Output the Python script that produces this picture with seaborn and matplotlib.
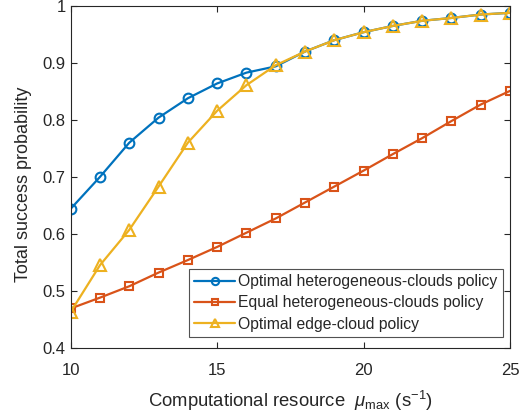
import numpy as np
import pandas as pd
import matplotlib
matplotlib.use('Agg')
import matplotlib.pyplot as plt
import seaborn as sns

# wartości
mu_max = list(range(10, 26))
opt_hetero = [0.644, 0.700, 0.760, 0.804, 0.838, 0.864, 0.883, 0.894,
              0.920, 0.940, 0.954, 0.965, 0.974, 0.979, 0.985, 0.988]
equal_hetero = [0.469, 0.488, 0.508, 0.532, 0.554, 0.577, 0.602, 0.627,
                0.655, 0.683, 0.711, 0.740, 0.768, 0.798, 0.827, 0.851]
opt_edge = [0.463, 0.545, 0.607, 0.683, 0.760, 0.816, 0.861, 0.896,
            0.920, 0.940, 0.954, 0.965, 0.974, 0.979, 0.985, 0.988]

labels = ['Optimal heterogeneous-clouds policy',
          'Equal heterogeneous-clouds policy',
          'Optimal edge-cloud policy']
colors = ['#0072BD', '#D95319', '#EDB120']
markers = ['o', 's', '^']
msizes = [7, 5.5, 8]

sns.set_theme(style='ticks')
plt.rcParams['font.family'] = ['Liberation Sans', 'DejaVu Sans']
plt.rcParams['mathtext.fontset'] = 'custom'
plt.rcParams['mathtext.it'] = 'Liberation Sans:italic'
plt.rcParams['mathtext.rm'] = 'Liberation Sans'

fig = plt.figure(figsize=(5.26, 4.16), dpi=100)
ax = fig.add_axes([0.1344, 0.164, 0.8352, 0.8216])

for ys, lab, c, m, ms in zip([opt_hetero, equal_hetero, opt_edge], labels, colors, markers, msizes):
    sns.lineplot(x=mu_max, y=ys, ax=ax, color=c, marker=m, markersize=ms,
                 markerfacecolor='none', markeredgecolor=c, markeredgewidth=1.5,
                 linewidth=1.6, label=lab)

ax.set_xlim(10, 25)
ax.set_ylim(0.4, 1.0)
ax.set_xticks([10, 15, 20, 25])
ax.set_yticks(np.arange(0.4, 1.01, 0.1))
ax.set_yticklabels(['0.4', '0.5', '0.6', '0.7', '0.8', '0.9', '1'])
ax.tick_params(direction='in', top=True, right=True, labelsize=12, length=4,
               width=0.8, colors='#262626')
ax.tick_params(axis='x', pad=11)
for sp in ax.spines.values():
    sp.set_linewidth(0.8)
    sp.set_color('#262626')
ax.set_xlabel(r'Computational resource  $\mu_{\rm max}$ (s$^{-1}$)', fontsize=13.3, labelpad=8)
ax.set_ylabel('Total success probability', fontsize=13)
ax.yaxis.set_label_coords(-0.088, 0.478)

leg = ax.legend(loc='lower right', bbox_to_anchor=(0.984, 0.031), fontsize=11.3,
                frameon=True, fancybox=False, edgecolor='#262626', borderpad=0.35,
                labelspacing=0.4, handlelength=2.6, handletextpad=0.2,
                borderaxespad=0, markerscale=0.75)
leg.get_frame().set_linewidth(0.8)

fig.savefig('out.png', dpi=100)
